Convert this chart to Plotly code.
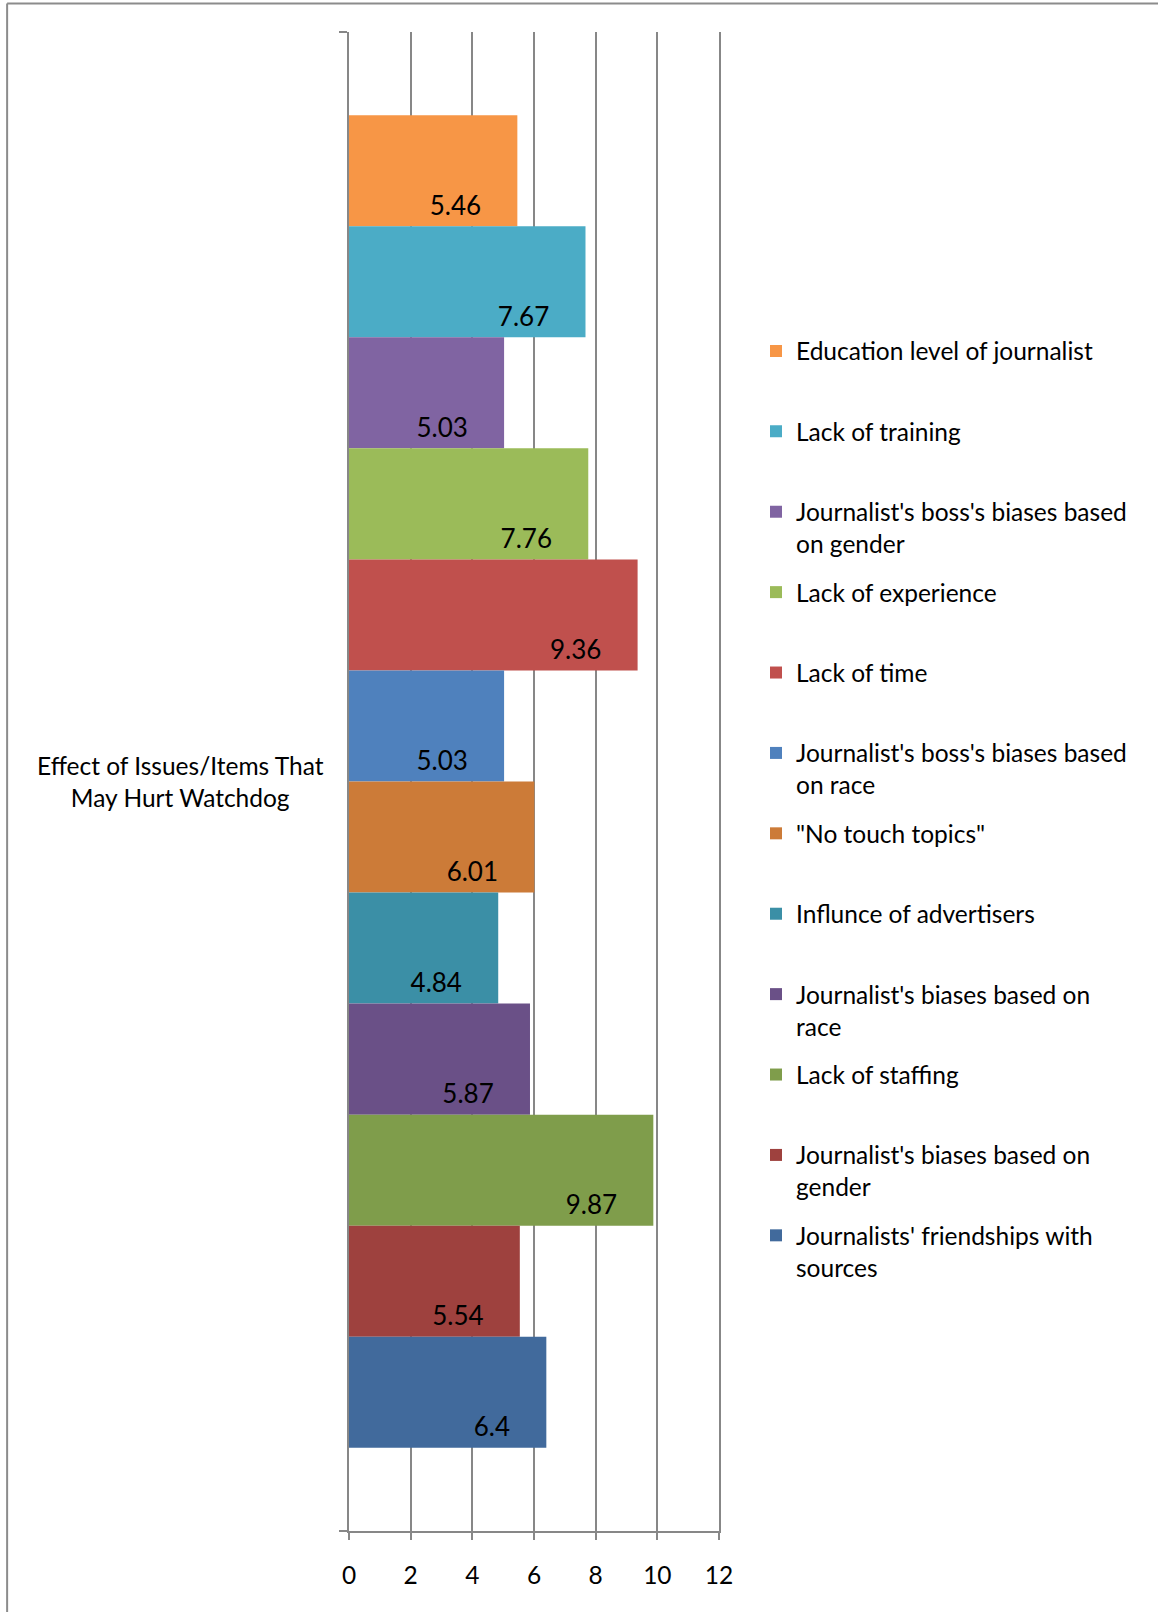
import plotly.graph_objects as go

category = "Effect of Issues/Items That<br>May Hurt Watchdog"

series_names = [
    "Education level of journalist",
    "Lack of training",
    "Journalist's boss's biases based<br>on gender",
    "Lack of experience",
    "Lack of time",
    "Journalist's boss's biases based<br>on race",
    "\"No touch topics\"",
    "Influnce of advertisers",
    "Journalist's biases based on<br>race",
    "Lack of staffing",
    "Journalist's biases based on<br>gender",
    "Journalists' friendships with<br>sources",
]

series_values = [5.46, 7.67, 5.03, 7.76, 9.36, 5.03, 6.01, 4.84, 5.87, 9.87, 5.54, 6.4]

series_colors = [
    "#F79646", "#4BACC6", "#8064A2", "#9BBB59", "#C0504D", "#4F81BD",
    "#CC7B38", "#3B8FA6", "#6A5087", "#7F9D4B", "#9E413E", "#416A9C",
]

x_ticks = [0, 2, 4, 6, 8, 10, 12]

FONT = "Lato, 'Open Sans', sans-serif"
GRID = "#878787"
TXT = 24.5

fig = go.Figure()
for i, (name, val, col) in enumerate(zip(series_names, series_values, series_colors)):
    legend_name = name if "<br>" in name else name + "<br>&nbsp;"
    fig.add_trace(go.Bar(
        name=legend_name,
        y=[category],
        x=[val],
        orientation="h",
        marker=dict(color=col, line=dict(width=0)),
        text=["&nbsp;<br>&nbsp;<br>" + f"{val:g}" + "&nbsp;" * 5],
        textposition="inside",
        insidetextanchor="end",
        textangle=0,
        textfont=dict(family=FONT, size=26, color="black"),
        legendgroup=f"g{i}",
        hoverinfo="x+name",
    ))

fig.update_layout(
    width=1158,
    height=1612,
    margin=dict(l=349, r=439, t=32, b=81, pad=0),
    paper_bgcolor="white",
    plot_bgcolor="white",
    barmode="group",
    bargap=0.111,
    bargroupgap=0,
    font=dict(family=FONT, size=TXT, color="black"),
    showlegend=True,
    legend=dict(
        x=1.1, xanchor="left",
        y=0.8022, yanchor="top",
        valign="top",
        traceorder="grouped",
        tracegroupgap=13.7,
        font=dict(family=FONT, size=TXT, color="black"),
        bgcolor="rgba(0,0,0,0)",
    ),
    xaxis=dict(
        range=[0, 12],
        tickvals=x_ticks,
        ticktext=[str(t) for t in x_ticks],
        showgrid=True,
        gridcolor=GRID,
        gridwidth=2,
        showline=True,
        linecolor=GRID,
        linewidth=2,
        ticks="outside",
        ticklen=7,
        tickwidth=2,
        tickcolor=GRID,
        ticklabelstandoff=15,
        zeroline=False,
        tickfont=dict(family=FONT, size=TXT, color="black"),
    ),
    yaxis=dict(
        type="category",
        autorange="reversed",
        showticklabels=False,
        showline=True,
        mirror=True,
        linecolor=GRID,
        linewidth=2,
        ticks="outside",
        tickson="boundaries",
        ticklen=8,
        tickwidth=2,
        tickcolor=GRID,
        showgrid=False,
        zeroline=False,
    ),
    annotations=[dict(
        text=category,
        xref="paper", yref="y",
        x=-0.455, y=category,
        xanchor="center", yanchor="middle",
        align="center",
        showarrow=False,
        font=dict(family=FONT, size=TXT, color="black"),
    )],
    shapes=[
        dict(type="line", xref="paper", yref="paper",
             x0=-0.924, x1=-0.924, y0=1.019, y1=-0.1,
             line=dict(color="#8C8C8C", width=2)),
        dict(type="line", xref="paper", yref="paper",
             x0=-0.924, x1=2.3, y0=1.019, y1=1.019,
             line=dict(color="#8C8C8C", width=2)),
    ],
)

fig.write_html(
    "out.html",
    config={"displayModeBar": False},
    post_script="document.body.style.margin='0';",
)
